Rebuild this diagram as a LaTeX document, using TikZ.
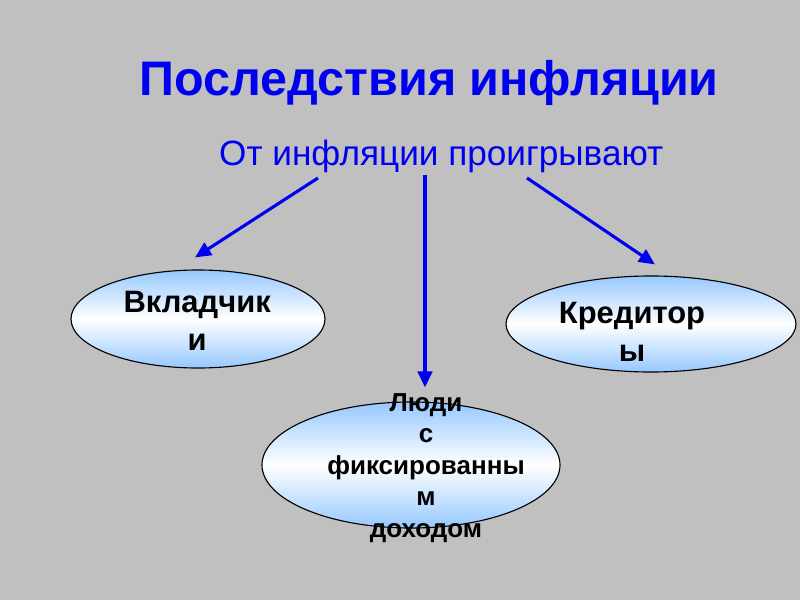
\documentclass[tikz,border=0pt]{standalone}
\usepackage{fontspec}
\setmainfont{Liberation Sans}
\usepackage{xcolor}
\usetikzlibrary{arrows.meta,positioning,shapes.geometric}

\definecolor{slidegray}{RGB}{192,192,192}
\definecolor{titleblue}{RGB}{0,0,240}
\definecolor{ellblue}{RGB}{150,200,255}

\begin{document}
\begin{tikzpicture}[
    oval/.style={ellipse, draw=black, thick, inner sep=0pt,
                 top color=ellblue, bottom color=ellblue, middle color=white},
    ovaltext/.style={align=center, font=\bfseries\fontsize{22}{27}\selectfont},
    smalltext/.style={align=center, font=\bfseries\fontsize{18.5}{22.5}\selectfont},
    arr/.style={-{Triangle[length=4mm, width=3.6mm]}, line width=2.2pt, draw=titleblue},
]
% background
\fill[slidegray] (0,0) rectangle (20,15);
\useasboundingbox (0,0) rectangle (20,15);

% headings
\node[anchor=base, text=titleblue, font=\bfseries\fontsize{34.5}{40}\selectfont]
    (title) at (10.73,12.6) {Последствия инфляции};
\node[anchor=base, text=titleblue, font=\fontsize{25}{30}\selectfont]
    (sub) at (11.03,10.85) {От инфляции проигрывают};

% ellipses
\node[oval, minimum width=6.35cm, minimum height=2.45cm] (vklad) at (4.95,7.025) {};
\node[oval, minimum width=7.25cm, minimum height=2.4cm] (kred) at (16.275,6.9) {};
\node[oval, minimum width=7.45cm, minimum height=3.15cm] (lyudi) at (10.275,3.375) {};

% texts
\node[ovaltext] (vkladt) at (4.93,6.98) {Вкладчик\\и};
\node[ovaltext] (kredt) at (15.8,6.7) {Кредитор\\ы};
\node[smalltext] (lyudit) at (10.65,3.3) {Люди\\с\\фиксированны\\м\\доходом};

% arrows
\coordinate (s1) at (7.95,10.55);
\coordinate (s2) at (10.625,10.625);
\coordinate (s3) at (13.175,10.55);
\draw[arr] (s1) -- ([xshift=-0.075cm, yshift=0.3cm]vklad.north);
\draw[arr] (s2) -- ([xshift=0.35cm, yshift=0.35cm]lyudi.north);
\draw[arr] (s3) -- ([xshift=0.1cm, yshift=0.275cm]kred.north);
\end{tikzpicture}
\end{document}
